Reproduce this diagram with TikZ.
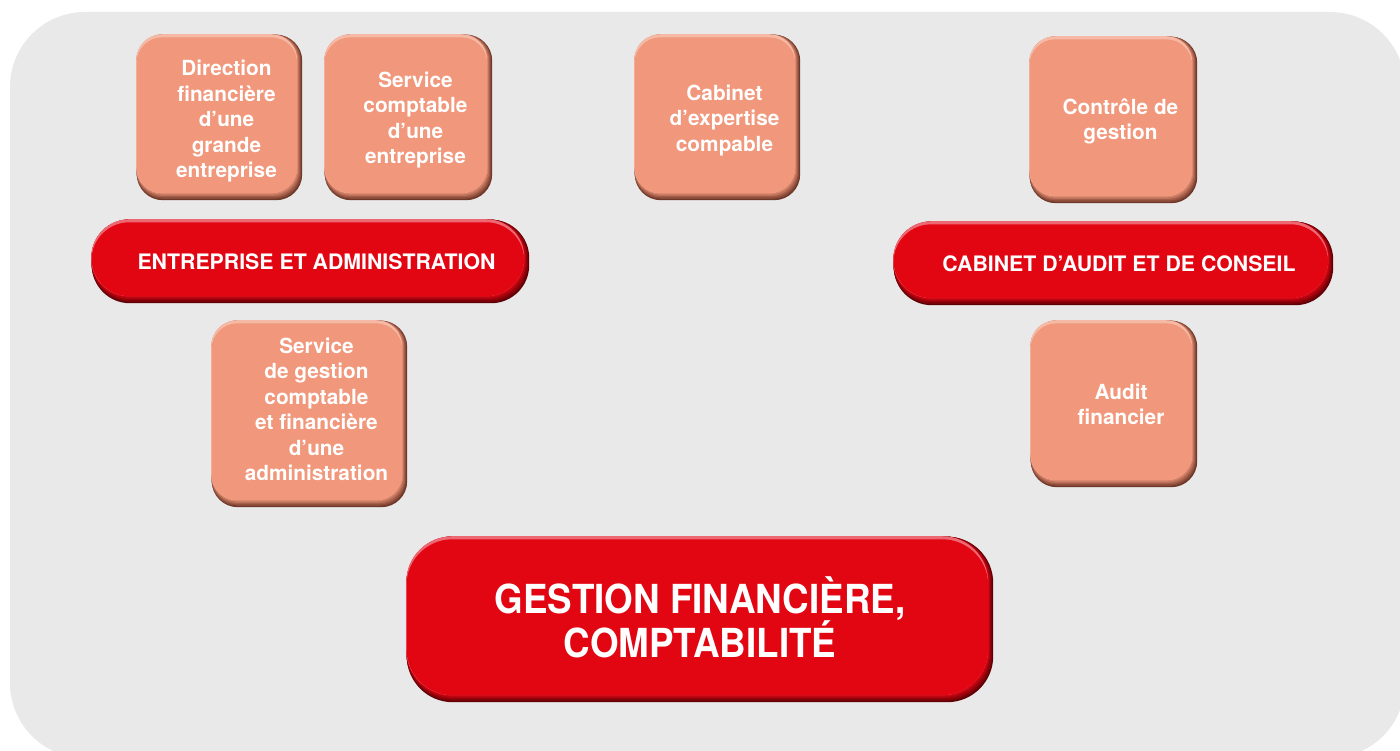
\documentclass[tikz,border=0pt]{standalone}
\usepackage{fontspec}
\setmainfont{TeX Gyre Heros}
\newfontfamily\bigfont[FakeStretch=0.92]{TeX Gyre Heros}
\definecolor{panel}{RGB}{233,233,233}
\definecolor{salmon}{RGB}{241,151,123}
\definecolor{salmondk}{RGB}{110,55,40}
\definecolor{salmonlt}{RGB}{246,185,165}
\definecolor{redbox}{RGB}{226,6,19}
\definecolor{reddk}{RGB}{95,0,5}
\definecolor{redlt}{RGB}{236,105,115}
\pgfdeclarelayer{bg}\pgfdeclarelayer{boxes}\pgfsetlayers{bg,boxes,main}
\newcommand\bevel[5]{%
 \begin{pgfonlayer}{boxes}
 \fill[#3,rounded corners=#5] (#1.south west) rectangle (#1.north east);
 \foreach \i/\p in {1/20,2/40,3/60,4/80}{
   \fill[#2!\p!#3,rounded corners=#5] ([yshift={1.4*\i*1pt},xshift=-0.3pt]#1.south west) rectangle ([xshift={-\i*1pt},yshift=0.3pt]#1.north east);}
 \fill[#4,rounded corners=#5] ([yshift=7pt,xshift=-0.6pt]#1.south west) rectangle ([xshift=-5pt,yshift=0.6pt]#1.north east);
 \fill[#2,rounded corners=#5] ([yshift=7pt,xshift=-0.3pt]#1.south west) rectangle ([xshift=-5pt,yshift=-2.5pt]#1.north east);
 \end{pgfonlayer}}
\tikzset{
  smallbox/.style={inner sep=0pt, text=white, font=\fontsize{20.8}{25.5}\selectfont\bfseries},
  labelbox/.style={inner sep=0pt, text=white, font=\fontsize{21.3}{25}\selectfont\bfseries},
  bigbox/.style={inner sep=0pt, text=white, align=center, font=\bigfont\fontsize{40}{42}\selectfont\bfseries}
}
\newcommand\lines[2][-8.2pt]{\smash{\raisebox{#1}{\hspace*{14pt}\begin{tabular}{@{}c@{}}#2\end{tabular}}}}
\begin{document}
\begin{tikzpicture}[x=1pt,y=-1pt]
\useasboundingbox (0,0) rectangle (1400,751);
\begin{pgfonlayer}{bg}
\begin{scope}
\clip (0,0) rectangle (1400,751);
\fill[panel, rounded corners=75pt] (10,12) rectangle (1405,758);
\end{scope}
\end{pgfonlayer}

\node[smallbox, minimum width=165pt, minimum height=165pt] (dir) at (219.5,117.5)
  {\lines[-9.2pt]{Direction\\financière\\d’une\\grande\\entreprise}};
\node[smallbox, minimum width=167pt, minimum height=165pt] (svc) at (408.5,117.5)
  {\lines{Service\\comptable\\d’une\\entreprise}};
\node[smallbox, minimum width=165pt, minimum height=165pt] (cab) at (717.5,117.5)
  {\lines{Cabinet\\d’expertise\\compable}};
\node[smallbox, minimum width=167pt, minimum height=166pt] (ctl) at (1113.5,120)
  {\lines[-7.2pt]{Contrôle de\\gestion}};
\node[labelbox, minimum width=437pt, minimum height=83pt] (ent) at (310.5,261.5)
  {\hspace*{12pt}ENTREPRISE ET ADMINISTRATION};
\node[labelbox, minimum width=439pt, minimum height=83pt] (aud) at (1113.5,263.5)
  {\hspace*{11pt}CABINET D’AUDIT ET DE CONSEIL};
\node[smallbox, minimum width=195pt, minimum height=186pt] (sga) at (309.5,414)
  {\lines[-3.2pt]{Service\\de gestion\\comptable\\et financière\\d’une\\administration}};
\node[smallbox, minimum width=166pt, minimum height=166pt] (afi) at (1114,404)
  {\lines{Audit\\financier}};
\node[bigbox, minimum width=586pt, minimum height=165pt] (ges) at (700,619.5)
  {GESTION FINANCIÈRE,\\COMPTABILITÉ\rule[-5pt]{0pt}{0pt}};

\bevel{dir}{salmon}{salmondk}{salmonlt}{26pt}
\bevel{svc}{salmon}{salmondk}{salmonlt}{26pt}
\bevel{cab}{salmon}{salmondk}{salmonlt}{26pt}
\bevel{ctl}{salmon}{salmondk}{salmonlt}{26pt}
\bevel{sga}{salmon}{salmondk}{salmonlt}{26pt}
\bevel{afi}{salmon}{salmondk}{salmonlt}{26pt}
\bevel{ent}{redbox}{reddk}{redlt}{38pt}
\bevel{aud}{redbox}{reddk}{redlt}{38pt}
\bevel{ges}{redbox}{reddk}{redlt}{46pt}
\end{tikzpicture}
\end{document}
